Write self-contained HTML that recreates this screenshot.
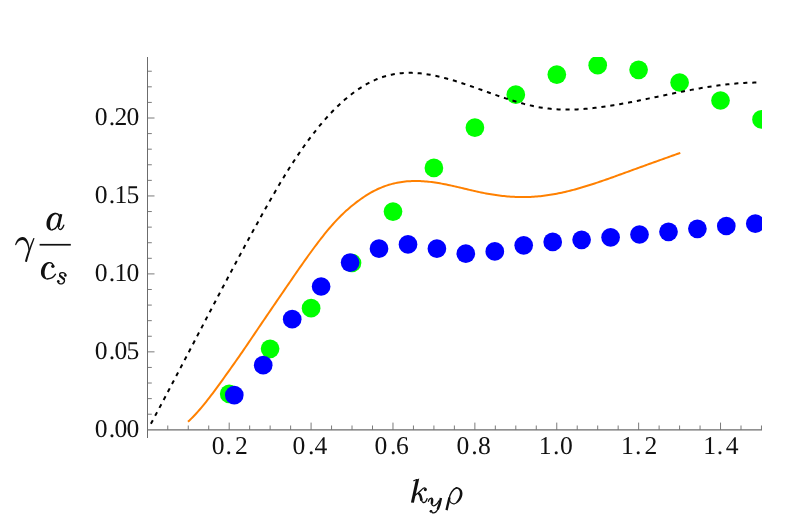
<!DOCTYPE html>
<html><head><meta charset="utf-8"><title>Growth rate</title>
<style>
html,body{margin:0;padding:0;background:#fff;}
body{width:789px;height:527px;overflow:hidden;font-family:"Liberation Serif",serif;}
svg{display:block;will-change:transform;}
text{text-rendering:geometricPrecision;}
</style></head>
<body>
<svg width="789" height="527" viewBox="0 0 789 527">
<rect width="789" height="527" fill="#fff"/>
<defs><clipPath id="c"><rect x="147" y="57" width="615" height="380"/></clipPath></defs>
<g stroke="#6c6c6c" stroke-width="1" fill="none" shape-rendering="crispEdges">
<line x1="147.5" y1="57" x2="147.5" y2="437.5"/>
</g>
<line x1="147" y1="429.8" x2="762" y2="429.8" stroke="#6c6c6c" stroke-width="1.15"/>
<g stroke="#6c6c6c" stroke-width="0.9" fill="none">
<line x1="147.5" y1="414.21" x2="151.80" y2="414.21"/>
<line x1="147.5" y1="398.62" x2="151.80" y2="398.62"/>
<line x1="147.5" y1="383.03" x2="151.80" y2="383.03"/>
<line x1="147.5" y1="367.44" x2="151.80" y2="367.44"/>
<line x1="147.5" y1="351.85" x2="154.50" y2="351.85"/>
<line x1="147.5" y1="336.26" x2="151.80" y2="336.26"/>
<line x1="147.5" y1="320.67" x2="151.80" y2="320.67"/>
<line x1="147.5" y1="305.08" x2="151.80" y2="305.08"/>
<line x1="147.5" y1="289.49" x2="151.80" y2="289.49"/>
<line x1="147.5" y1="273.90" x2="154.50" y2="273.90"/>
<line x1="147.5" y1="258.31" x2="151.80" y2="258.31"/>
<line x1="147.5" y1="242.72" x2="151.80" y2="242.72"/>
<line x1="147.5" y1="227.13" x2="151.80" y2="227.13"/>
<line x1="147.5" y1="211.54" x2="151.80" y2="211.54"/>
<line x1="147.5" y1="195.95" x2="154.50" y2="195.95"/>
<line x1="147.5" y1="180.36" x2="151.80" y2="180.36"/>
<line x1="147.5" y1="164.77" x2="151.80" y2="164.77"/>
<line x1="147.5" y1="149.18" x2="151.80" y2="149.18"/>
<line x1="147.5" y1="133.59" x2="151.80" y2="133.59"/>
<line x1="147.5" y1="118.00" x2="154.50" y2="118.00"/>
<line x1="147.5" y1="102.41" x2="151.80" y2="102.41"/>
<line x1="147.5" y1="86.82" x2="151.80" y2="86.82"/>
<line x1="147.5" y1="71.23" x2="151.80" y2="71.23"/>
<line x1="167.77" y1="429.8" x2="167.77" y2="425.50"/>
<line x1="188.25" y1="429.8" x2="188.25" y2="425.50"/>
<line x1="208.72" y1="429.8" x2="208.72" y2="425.50"/>
<line x1="229.19" y1="429.8" x2="229.19" y2="422.60"/>
<line x1="249.66" y1="429.8" x2="249.66" y2="425.50"/>
<line x1="270.13" y1="429.8" x2="270.13" y2="425.50"/>
<line x1="290.61" y1="429.8" x2="290.61" y2="425.50"/>
<line x1="311.08" y1="429.8" x2="311.08" y2="422.60"/>
<line x1="331.55" y1="429.8" x2="331.55" y2="425.50"/>
<line x1="352.02" y1="429.8" x2="352.02" y2="425.50"/>
<line x1="372.50" y1="429.8" x2="372.50" y2="425.50"/>
<line x1="392.97" y1="429.8" x2="392.97" y2="422.60"/>
<line x1="413.44" y1="429.8" x2="413.44" y2="425.50"/>
<line x1="433.92" y1="429.8" x2="433.92" y2="425.50"/>
<line x1="454.39" y1="429.8" x2="454.39" y2="425.50"/>
<line x1="474.86" y1="429.8" x2="474.86" y2="422.60"/>
<line x1="495.33" y1="429.8" x2="495.33" y2="425.50"/>
<line x1="515.81" y1="429.8" x2="515.81" y2="425.50"/>
<line x1="536.28" y1="429.8" x2="536.28" y2="425.50"/>
<line x1="556.75" y1="429.8" x2="556.75" y2="422.60"/>
<line x1="577.22" y1="429.8" x2="577.22" y2="425.50"/>
<line x1="597.70" y1="429.8" x2="597.70" y2="425.50"/>
<line x1="618.17" y1="429.8" x2="618.17" y2="425.50"/>
<line x1="638.64" y1="429.8" x2="638.64" y2="422.60"/>
<line x1="659.11" y1="429.8" x2="659.11" y2="425.50"/>
<line x1="679.59" y1="429.8" x2="679.59" y2="425.50"/>
<line x1="700.06" y1="429.8" x2="700.06" y2="425.50"/>
<line x1="720.53" y1="429.8" x2="720.53" y2="422.60"/>
<line x1="741.00" y1="429.8" x2="741.00" y2="425.50"/>
<line x1="761.47" y1="429.8" x2="761.47" y2="425.50"/>
</g>
<g clip-path="url(#c)">
<circle cx="229.2" cy="393.9" r="9.35" fill="#00ff00"/>
<circle cx="270.1" cy="348.8" r="9.35" fill="#00ff00"/>
<circle cx="311.1" cy="308.2" r="9.35" fill="#00ff00"/>
<circle cx="352.0" cy="263.0" r="9.35" fill="#00ff00"/>
<circle cx="393.0" cy="211.6" r="9.35" fill="#00ff00"/>
<circle cx="433.9" cy="167.9" r="9.35" fill="#00ff00"/>
<circle cx="474.9" cy="127.7" r="9.35" fill="#00ff00"/>
<circle cx="515.8" cy="94.7" r="9.35" fill="#00ff00"/>
<circle cx="556.8" cy="74.6" r="9.35" fill="#00ff00"/>
<circle cx="597.7" cy="65.2" r="9.35" fill="#00ff00"/>
<circle cx="638.6" cy="69.8" r="9.35" fill="#00ff00"/>
<circle cx="679.6" cy="82.5" r="9.35" fill="#00ff00"/>
<circle cx="720.5" cy="100.5" r="9.35" fill="#00ff00"/>
<circle cx="761.5" cy="119.4" r="9.35" fill="#00ff00"/>
<circle cx="234.3" cy="395.1" r="9.35" fill="#0000ff"/>
<circle cx="263.2" cy="365.2" r="9.35" fill="#0000ff"/>
<circle cx="292.2" cy="319.2" r="9.35" fill="#0000ff"/>
<circle cx="321.1" cy="286.5" r="9.35" fill="#0000ff"/>
<circle cx="350.1" cy="262.6" r="9.35" fill="#0000ff"/>
<circle cx="379.0" cy="248.7" r="9.35" fill="#0000ff"/>
<circle cx="408.0" cy="244.4" r="9.35" fill="#0000ff"/>
<circle cx="436.9" cy="248.7" r="9.35" fill="#0000ff"/>
<circle cx="465.8" cy="253.7" r="9.35" fill="#0000ff"/>
<circle cx="494.8" cy="251.4" r="9.35" fill="#0000ff"/>
<circle cx="523.7" cy="245.3" r="9.35" fill="#0000ff"/>
<circle cx="552.7" cy="241.9" r="9.35" fill="#0000ff"/>
<circle cx="581.6" cy="239.8" r="9.35" fill="#0000ff"/>
<circle cx="610.6" cy="237.3" r="9.35" fill="#0000ff"/>
<circle cx="639.5" cy="234.5" r="9.35" fill="#0000ff"/>
<circle cx="668.5" cy="231.8" r="9.35" fill="#0000ff"/>
<circle cx="697.4" cy="228.8" r="9.35" fill="#0000ff"/>
<circle cx="726.3" cy="226.0" r="9.35" fill="#0000ff"/>
<circle cx="755.3" cy="223.7" r="9.35" fill="#0000ff"/>
<path d="M150.90,423.77 L152.94,419.97 L154.98,416.16 L157.02,412.35 L159.06,408.52 L161.09,404.69 L163.13,400.85 L165.17,397.01 L167.21,393.16 L169.25,389.30 L171.29,385.44 L173.33,381.57 L175.37,377.69 L177.40,373.82 L179.44,369.94 L181.48,366.05 L183.52,362.16 L185.56,358.27 L187.60,354.38 L189.64,350.49 L191.68,346.59 L193.71,342.70 L195.75,338.80 L197.79,334.90 L199.83,331.01 L201.87,327.12 L203.91,323.22 L205.95,319.33 L207.99,315.44 L210.03,311.56 L212.06,307.67 L214.10,303.79 L216.14,299.92 L218.18,296.05 L220.22,292.18 L222.26,288.32 L224.30,284.47 L226.34,280.62 L228.37,276.78 L230.41,272.94 L232.45,269.11 L234.49,265.30 L236.53,261.48 L238.57,257.68 L240.61,253.89 L242.65,250.11 L244.68,246.33 L246.72,242.57 L248.76,238.82 L250.80,235.08 L252.84,231.35 L254.88,227.64 L256.92,223.94 L258.96,220.25 L260.99,216.57 L263.03,212.91 L265.07,209.27 L267.11,205.64 L269.15,202.04 L271.19,198.47 L273.23,194.92 L275.27,191.40 L277.31,187.92 L279.34,184.47 L281.38,181.06 L283.42,177.69 L285.46,174.36 L287.50,171.08 L289.54,167.84 L291.58,164.65 L293.62,161.51 L295.65,158.41 L297.69,155.36 L299.73,152.36 L301.77,149.41 L303.81,146.51 L305.85,143.66 L307.89,140.86 L309.93,138.12 L311.96,135.42 L314.00,132.78 L316.04,130.20 L318.08,127.66 L320.12,125.19 L322.16,122.77 L324.20,120.40 L326.24,118.09 L328.28,115.84 L330.31,113.65 L332.35,111.51 L334.39,109.43 L336.43,107.40 L338.47,105.43 L340.51,103.52 L342.55,101.67 L344.59,99.87 L346.62,98.14 L348.66,96.46 L350.70,94.83 L352.74,93.27 L354.78,91.76 L356.82,90.31 L358.86,88.92 L360.90,87.59 L362.93,86.32 L364.97,85.10 L367.01,83.94 L369.05,82.85 L371.09,81.81 L373.13,80.83 L375.17,79.91 L377.21,79.05 L379.25,78.25 L381.28,77.50 L383.32,76.82 L385.36,76.20 L387.40,75.63 L389.44,75.12 L391.48,74.67 L393.52,74.27 L395.56,73.92 L397.59,73.62 L399.63,73.37 L401.67,73.17 L403.71,73.02 L405.75,72.91 L407.79,72.85 L409.83,72.83 L411.87,72.86 L413.90,72.92 L415.94,73.03 L417.98,73.17 L420.02,73.35 L422.06,73.56 L424.10,73.81 L426.14,74.10 L428.18,74.41 L430.22,74.76 L432.25,75.13 L434.29,75.53 L436.33,75.96 L438.37,76.42 L440.41,76.90 L442.45,77.40 L444.49,77.93 L446.53,78.47 L448.56,79.03 L450.60,79.62 L452.64,80.21 L454.68,80.83 L456.72,81.46 L458.76,82.10 L460.80,82.76 L462.84,83.43 L464.87,84.11 L466.91,84.79 L468.95,85.49 L470.99,86.20 L473.03,86.91 L475.07,87.63 L477.11,88.35 L479.15,89.07 L481.18,89.80 L483.22,90.53 L485.26,91.26 L487.30,91.99 L489.34,92.72 L491.38,93.45 L493.42,94.17 L495.46,94.89 L497.50,95.60 L499.53,96.30 L501.57,97.00 L503.61,97.69 L505.65,98.37 L507.69,99.04 L509.73,99.70 L511.77,100.34 L513.81,100.97 L515.84,101.58 L517.88,102.18 L519.92,102.77 L521.96,103.33 L524.00,103.88 L526.04,104.40 L528.08,104.91 L530.12,105.39 L532.15,105.85 L534.19,106.28 L536.23,106.69 L538.27,107.08 L540.31,107.43 L542.35,107.76 L544.39,108.06 L546.43,108.33 L548.47,108.57 L550.50,108.79 L552.54,108.98 L554.58,109.14 L556.62,109.28 L558.66,109.39 L560.70,109.48 L562.74,109.54 L564.78,109.59 L566.81,109.60 L568.85,109.60 L570.89,109.58 L572.93,109.53 L574.97,109.47 L577.01,109.38 L579.05,109.28 L581.09,109.16 L583.12,109.02 L585.16,108.86 L587.20,108.69 L589.24,108.50 L591.28,108.29 L593.32,108.07 L595.36,107.84 L597.40,107.60 L599.44,107.34 L601.47,107.06 L603.51,106.78 L605.55,106.49 L607.59,106.18 L609.63,105.87 L611.67,105.54 L613.71,105.21 L615.75,104.87 L617.78,104.52 L619.82,104.17 L621.86,103.81 L623.90,103.44 L625.94,103.06 L627.98,102.68 L630.02,102.29 L632.06,101.90 L634.09,101.50 L636.13,101.10 L638.17,100.69 L640.21,100.28 L642.25,99.87 L644.29,99.45 L646.33,99.04 L648.37,98.61 L650.41,98.19 L652.44,97.77 L654.48,97.34 L656.52,96.91 L658.56,96.49 L660.60,96.06 L662.64,95.63 L664.68,95.21 L666.72,94.78 L668.75,94.36 L670.79,93.94 L672.83,93.52 L674.87,93.10 L676.91,92.68 L678.95,92.27 L680.99,91.86 L683.03,91.46 L685.06,91.06 L687.10,90.66 L689.14,90.27 L691.18,89.89 L693.22,89.51 L695.26,89.14 L697.30,88.77 L699.34,88.41 L701.37,88.06 L703.41,87.71 L705.45,87.38 L707.49,87.05 L709.53,86.73 L711.57,86.42 L713.61,86.12 L715.65,85.82 L717.69,85.54 L719.72,85.27 L721.76,85.01 L723.80,84.76 L725.84,84.53 L727.88,84.30 L729.92,84.09 L731.96,83.89 L734.00,83.70 L736.03,83.52 L738.07,83.36 L740.11,83.22 L742.15,83.09 L744.19,82.97 L746.23,82.87 L748.27,82.78 L750.31,82.71 L752.34,82.66 L754.38,82.62 L756.42,82.60 L758.46,82.60 L760.50,82.62" fill="none" stroke="#000" stroke-width="2.0" stroke-dasharray="4.1 4.9"/>
<path d="M188.00,421.76 L189.65,420.22 L191.29,418.61 L192.94,416.95 L194.59,415.23 L196.23,413.45 L197.88,411.62 L199.53,409.75 L201.17,407.82 L202.82,405.86 L204.46,403.85 L206.11,401.80 L207.76,399.72 L209.40,397.60 L211.05,395.45 L212.70,393.28 L214.34,391.08 L215.99,388.85 L217.64,386.61 L219.28,384.35 L220.93,382.07 L222.58,379.79 L224.22,377.49 L225.87,375.18 L227.52,372.88 L229.16,370.57 L230.81,368.25 L232.46,365.93 L234.10,363.60 L235.75,361.26 L237.39,358.92 L239.04,356.56 L240.69,354.19 L242.33,351.81 L243.98,349.42 L245.63,347.01 L247.27,344.59 L248.92,342.16 L250.57,339.72 L252.21,337.28 L253.86,334.84 L255.51,332.40 L257.15,329.97 L258.80,327.54 L260.45,325.10 L262.09,322.68 L263.74,320.25 L265.38,317.83 L267.03,315.40 L268.68,312.98 L270.32,310.57 L271.97,308.15 L273.62,305.74 L275.26,303.33 L276.91,300.92 L278.56,298.51 L280.20,296.11 L281.85,293.71 L283.50,291.31 L285.14,288.91 L286.79,286.51 L288.44,284.11 L290.08,281.72 L291.73,279.33 L293.38,276.94 L295.02,274.55 L296.67,272.17 L298.31,269.80 L299.96,267.43 L301.61,265.08 L303.25,262.73 L304.90,260.40 L306.55,258.08 L308.19,255.78 L309.84,253.49 L311.49,251.23 L313.13,248.98 L314.78,246.76 L316.43,244.56 L318.07,242.39 L319.72,240.24 L321.37,238.12 L323.01,236.04 L324.66,233.98 L326.31,231.96 L327.95,229.97 L329.60,228.02 L331.24,226.11 L332.89,224.24 L334.54,222.41 L336.18,220.62 L337.83,218.88 L339.48,217.18 L341.12,215.53 L342.77,213.93 L344.42,212.37 L346.06,210.86 L347.71,209.39 L349.36,207.97 L351.00,206.58 L352.65,205.23 L354.30,203.92 L355.94,202.65 L357.59,201.40 L359.23,200.19 L360.88,199.01 L362.53,197.86 L364.17,196.74 L365.82,195.66 L367.47,194.62 L369.11,193.62 L370.76,192.66 L372.41,191.75 L374.05,190.88 L375.70,190.04 L377.35,189.26 L378.99,188.51 L380.64,187.80 L382.29,187.13 L383.93,186.49 L385.58,185.90 L387.23,185.34 L388.87,184.82 L390.52,184.34 L392.16,183.89 L393.81,183.48 L395.46,183.10 L397.10,182.76 L398.75,182.45 L400.40,182.17 L402.04,181.93 L403.69,181.71 L405.34,181.53 L406.98,181.37 L408.63,181.24 L410.28,181.15 L411.92,181.07 L413.57,181.03 L415.22,181.01 L416.86,181.02 L418.51,181.05 L420.15,181.10 L421.80,181.18 L423.45,181.28 L425.09,181.40 L426.74,181.54 L428.39,181.70 L430.03,181.88 L431.68,182.08 L433.33,182.30 L434.97,182.53 L436.62,182.78 L438.27,183.04 L439.91,183.32 L441.56,183.61 L443.21,183.92 L444.85,184.24 L446.50,184.57 L448.15,184.91 L449.79,185.26 L451.44,185.62 L453.08,185.98 L454.73,186.36 L456.38,186.74 L458.02,187.12 L459.67,187.51 L461.32,187.90 L462.96,188.29 L464.61,188.69 L466.26,189.08 L467.90,189.47 L469.55,189.87 L471.20,190.25 L472.84,190.64 L474.49,191.01 L476.14,191.39 L477.78,191.75 L479.43,192.11 L481.07,192.45 L482.72,192.79 L484.37,193.12 L486.01,193.43 L487.66,193.73 L489.31,194.03 L490.95,194.30 L492.60,194.57 L494.25,194.82 L495.89,195.07 L497.54,195.29 L499.19,195.51 L500.83,195.71 L502.48,195.90 L504.13,196.08 L505.77,196.24 L507.42,196.39 L509.07,196.52 L510.71,196.64 L512.36,196.74 L514.00,196.83 L515.65,196.91 L517.30,196.97 L518.94,197.02 L520.59,197.05 L522.24,197.06 L523.88,197.06 L525.53,197.05 L527.18,197.02 L528.82,196.97 L530.47,196.90 L532.12,196.82 L533.76,196.73 L535.41,196.61 L537.06,196.48 L538.70,196.33 L540.35,196.17 L541.99,195.99 L543.64,195.79 L545.29,195.58 L546.93,195.35 L548.58,195.11 L550.23,194.85 L551.87,194.58 L553.52,194.29 L555.17,193.99 L556.81,193.68 L558.46,193.35 L560.11,193.01 L561.75,192.66 L563.40,192.29 L565.05,191.92 L566.69,191.53 L568.34,191.13 L569.99,190.72 L571.63,190.30 L573.28,189.86 L574.92,189.42 L576.57,188.97 L578.22,188.51 L579.86,188.04 L581.51,187.56 L583.16,187.07 L584.80,186.57 L586.45,186.07 L588.10,185.56 L589.74,185.04 L591.39,184.51 L593.04,183.98 L594.68,183.44 L596.33,182.90 L597.98,182.35 L599.62,181.79 L601.27,181.23 L602.92,180.67 L604.56,180.09 L606.21,179.52 L607.85,178.94 L609.50,178.36 L611.15,177.77 L612.79,177.19 L614.44,176.60 L616.09,176.00 L617.73,175.41 L619.38,174.81 L621.03,174.21 L622.67,173.62 L624.32,173.02 L625.97,172.42 L627.61,171.82 L629.26,171.22 L630.91,170.62 L632.55,170.02 L634.20,169.42 L635.84,168.82 L637.49,168.22 L639.14,167.63 L640.78,167.03 L642.43,166.44 L644.08,165.84 L645.72,165.25 L647.37,164.66 L649.02,164.06 L650.66,163.47 L652.31,162.88 L653.96,162.29 L655.60,161.69 L657.25,161.10 L658.90,160.51 L660.54,159.92 L662.19,159.33 L663.84,158.74 L665.48,158.16 L667.13,157.57 L668.77,156.98 L670.42,156.39 L672.07,155.80 L673.71,155.22 L675.36,154.63 L677.01,154.04 L678.65,153.46 L680.30,152.87" fill="none" stroke="#ff8000" stroke-width="2.0"/>
</g>
<g font-family="Liberation Serif, serif" font-size="25.6" fill="#111111">
<text y="437.1" text-anchor="middle"><tspan x="101.1">0</tspan><tspan x="111.9">.</tspan><tspan x="120.8">0</tspan><tspan x="133.0">0</tspan></text>
<text y="359.2" text-anchor="middle"><tspan x="101.1">0</tspan><tspan x="111.9">.</tspan><tspan x="120.8">0</tspan><tspan x="133.0">5</tspan></text>
<text y="281.2" text-anchor="middle"><tspan x="101.1">0</tspan><tspan x="111.9">.</tspan><tspan x="120.8">1</tspan><tspan x="133.0">0</tspan></text>
<text y="203.2" text-anchor="middle"><tspan x="101.1">0</tspan><tspan x="111.9">.</tspan><tspan x="120.8">1</tspan><tspan x="133.0">5</tspan></text>
<text y="125.3" text-anchor="middle"><tspan x="101.1">0</tspan><tspan x="111.9">.</tspan><tspan x="120.8">2</tspan><tspan x="133.0">0</tspan></text>
<text y="453.7" text-anchor="middle"><tspan x="218.2">0</tspan><tspan x="228.6">.</tspan><tspan x="241.5">2</tspan></text>
<text y="453.7" text-anchor="middle"><tspan x="298.9">0</tspan><tspan x="311.1">.</tspan><tspan x="321.0">4</tspan></text>
<text y="453.7" text-anchor="middle"><tspan x="380.9">0</tspan><tspan x="393.2">.</tspan><tspan x="402.4">6</tspan></text>
<text y="453.7" text-anchor="middle"><tspan x="462.8">0</tspan><tspan x="474.5">.</tspan><tspan x="484.5">8</tspan></text>
<text y="453.7" text-anchor="middle"><tspan x="545.2">1</tspan><tspan x="556.1">.</tspan><tspan x="566.5">0</tspan></text>
<text y="453.7" text-anchor="middle"><tspan x="627.4">1</tspan><tspan x="638.2">.</tspan><tspan x="650.9">2</tspan></text>
<text y="453.7" text-anchor="middle"><tspan x="709.6">1</tspan><tspan x="719.9">.</tspan><tspan x="732.1">4</tspan></text>
</g>
<rect x="39.6" y="243.9" width="31.2" height="1.7" fill="#111111"/>
<g role="img" aria-label="c sub s" transform="translate(30 250) scale(0.076046)" fill="none" stroke="#111111" stroke-linecap="round" stroke-linejoin="round">
<path d="M306,208 C300,176 272,162 246,166" stroke-width="17"/>
<path d="M252,157 C186,158 140,232 144,302 C147,360 192,392 242,387 C210,378 190,346 192,300 C195,240 218,186 252,175 Z" fill="#111111" stroke="none"/>
<path d="M232,378 C282,380 316,350 336,318" stroke-width="17"/>
<circle cx="301" cy="214" r="22" fill="#111111" stroke="none"/>
<path d="M470,326 C466,300 430,290 405,302 C388,310 384,332 398,346" stroke-width="18"/>
<path d="M396,340 L446,382" stroke-width="29"/>
<path d="M446,380 C462,398 452,430 426,442 C400,452 370,440 368,416" stroke-width="18"/>
<circle cx="465" cy="334" r="17" fill="#111111" stroke="none"/>
<circle cx="372" cy="410" r="17" fill="#111111" stroke="none"/>
</g>
<g role="img" aria-label="a" transform="translate(8 205) scale(0.113817)" fill="none" stroke="#111111" stroke-linecap="round" stroke-linejoin="round">
<path d="M452,100 C445,82 430,73 412,75" stroke-width="12"/>
<path d="M416,69 C370,70 338,118 338,166 C338,202 360,226 392,223 C374,214 368,192 370,165 C372,125 392,87 416,81 Z" fill="#111111" stroke="none"/>
<path d="M388,217 C412,215 432,190 442,160" stroke-width="12"/>
<path d="M466,80 C458,112 444,168 443,192" stroke-width="24" stroke-linecap="butt"/>
<path d="M442,188 C441,214 458,222 472,208 C480,200 486,190 490,178" stroke-width="12"/>
</g>
<g role="img" aria-label="k sub y rho" transform="translate(405 472) scale(0.08726)" fill="none" stroke="#111111" stroke-linecap="round" stroke-linejoin="round">
<path d="M124,90 L163,75 L102,353 L68,349 Z" fill="#111111" stroke="none"/>
<path d="M100,100 L135,86" stroke-width="12"/>
<path d="M112,268 C150,250 185,205 210,187 C225,177 240,185 240,198" stroke-width="15"/>
<circle cx="233" cy="203" r="17" fill="#111111" stroke="none"/>
<path d="M150,247 C182,248 180,290 190,328" stroke-width="30" stroke-linecap="butt"/>
<path d="M188,318 C194,350 215,358 235,340 C245,330 250,318 253,305" stroke-width="15"/>
<path d="M268,338 C272,318 285,302 300,303" stroke-width="13"/>
<path d="M300,303 C320,305 307,345 307,365" stroke-width="28" stroke-linecap="butt"/>
<path d="M305,358 C305,385 325,393 345,383 C365,373 380,350 388,332" stroke-width="15"/>
<path d="M412,298 C405,335 390,395 375,428" stroke-width="28" stroke-linecap="butt"/>
<path d="M378,420 C362,456 335,473 312,466" stroke-width="15"/>
<circle cx="298" cy="451" r="16" fill="#111111" stroke="none"/>
<path d="M476,437 L510,292" stroke-width="27" stroke-linecap="butt"/>
<path d="M507,305 C513,255 545,197 590,181" stroke-width="17"/>
<path d="M583,172 C632,170 668,212 657,266 C648,315 612,360 558,371 C594,346 620,305 628,262 C635,222 622,192 583,189 Z" fill="#111111" stroke="none"/>
<path d="M568,364 C540,369 513,350 509,312" stroke-width="13"/>
</g>
<path fill="#111111" d="M15.1,245.0 C15.8,241.0 18.6,237.0 22.5,236.9 C27.0,236.8 29.3,243.0 29.7,250.2 L28.5,250.6 C28.0,245.5 26.2,240.2 22.3,240.0 C19.3,239.9 17.2,242.3 16.0,245.3 Z"/>
<path fill="#111111" d="M33.4,237.9 L34.6,238.3 C32.5,244 29.5,252 26.9,261.9 L24.9,261.5 C27.0,253 30.5,245 33.4,237.9 Z"/>
</svg>
</body></html>
